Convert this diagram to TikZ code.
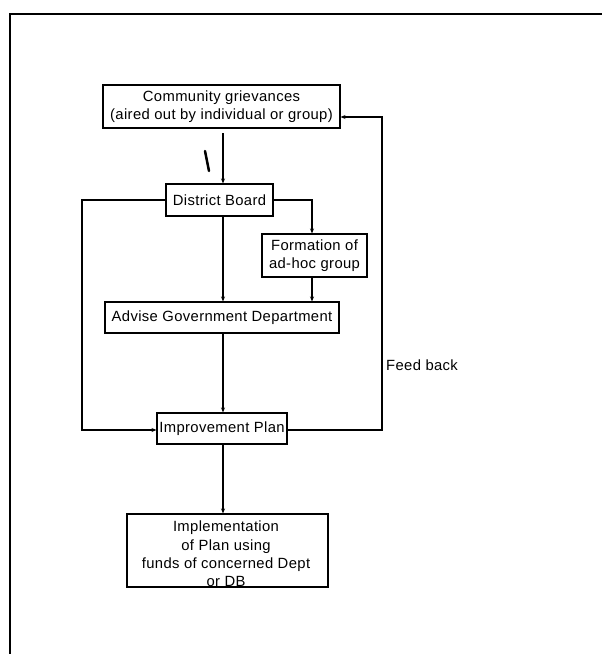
\documentclass[tikz,border=0pt]{standalone}
\usepackage{fontspec}
\setmainfont[LetterSpace=2.5]{Liberation Sans}
\usetikzlibrary{arrows.meta}
\begin{document}
\begin{tikzpicture}[x=1pt,y=-1pt,
  txt/.style={inner sep=0pt,align=center,font=\fontsize{14.8}{18.2}\selectfont},
  box/.style={txt,draw,line width=1.1pt},
  conn/.style={line width=1.3pt,-{Stealth[length=5pt,width=4pt]}},
  wire/.style={line width=1.3pt}]
\useasboundingbox (0,0) rectangle (602,654);
% frame (top and left edges only)
\draw[line width=2pt] (10,654) -- (10,14) -- (602,14);
% nodes
\node[box,minimum width=237pt,minimum height=43pt] (comm) at (221.5,106.5)
  {Community grievances\\(aired out by individual or group)};
\node[box,minimum width=107pt,minimum height=32pt] (db) at (219.5,200) {District Board};
\node[box,minimum width=105pt,minimum height=43pt] (form) at (314.5,255.5) {Formation of\\ad-hoc group};
\node[box,minimum width=234pt,minimum height=31pt] (adv) at (222,317.5) {Advise Government Department};
\node[box,minimum width=130pt,minimum height=31pt] (imp) at (222,428.5) {Improvement Plan};
\node[box,minimum width=201pt,minimum height=73pt] (impl) at (227.5,550.5) {};
\node[txt] (impltxt) at (226,554)
  {Implementation\\of Plan using\\funds of concerned Dept\\or DB};
\node[txt,anchor=west] (fb) at (386,365) {Feed back};
% stray pen mark
\draw[line width=2.5pt,line cap=round] (205,151) -- (209,171);
% connectors
\coordinate (c1) at (223,128);
\draw[conn] (223,133) -- (db.north -| c1);
\draw[conn] (db.south -| c1) -- (adv.north -| c1);
\draw[conn] (adv.south -| c1) -- (imp.north -| c1);
\draw[conn] (imp.south -| c1) -- (impl.north -| c1);
% district board to ad-hoc group
\coordinate (r1) at (312,200);
\draw[conn] (db.east) -- (r1) -- (form.north -| r1);
\draw[conn] (form.south -| r1) -- (adv.north -| r1);
% district board directly to improvement plan
\coordinate (l1) at (82,200);
\coordinate (l2) at (82,430);
\draw[conn] (db.west) -- (l1) -- (l2) -- (imp.west |- l2);
% feedback
\coordinate (f1) at (382,430);
\coordinate (f2) at (382,117);
\draw[conn] (imp.east |- f1) -- (f1) -- (f2) -- (comm.east |- f2);
\end{tikzpicture}
\end{document}
